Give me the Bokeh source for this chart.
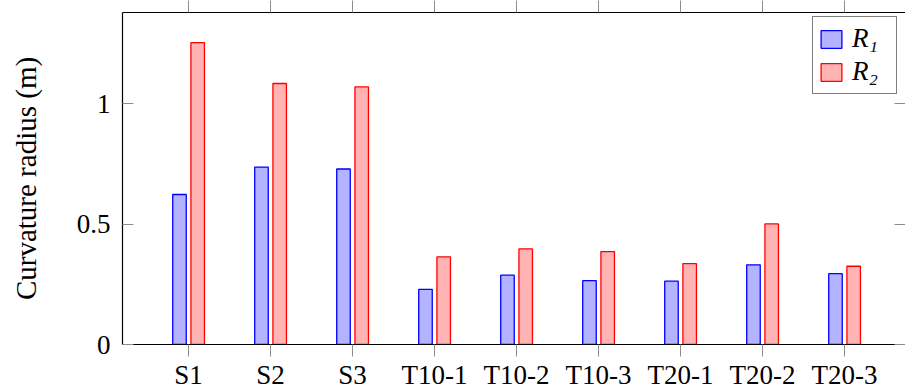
from bokeh.plotting import figure
from bokeh.models import (Range1d, FixedTicker, LinearAxis, Legend, LegendItem,
                          ColumnDataSource)
from bokeh.transform import dodge
from bokeh.embed import file_html
from bokeh.resources import INLINE

categories = ["S1", "S2", "S3", "T10-1", "T10-2", "T10-3", "T20-1", "T20-2", "T20-3"]
r1_values = [0.623, 0.737, 0.729, 0.229, 0.288, 0.265, 0.263, 0.331, 0.294]
r2_values = [1.254, 1.084, 1.070, 0.364, 0.397, 0.386, 0.336, 0.501, 0.325]
y_ticks = [0, 0.5, 1]
y_tick_labels = ["0", "0.5", "1"]

positions = list(range(1, len(categories) + 1))
src = ColumnDataSource(dict(x=positions, r1=r1_values, r2=r2_values))

FONT = "Liberation Serif"
TICK_COLOR = "#8c8c8c"

p = figure(width=905, height=392, output_backend="svg", toolbar_location=None,
           x_range=Range1d(0.195, 9.744), y_range=Range1d(0, 1.379),
           x_axis_location=None, y_axis_location=None,
           min_border_left=122, min_border_right=0, min_border_top=12,
           min_border_bottom=46)
p.outline_line_color = None
p.grid.visible = False
p.background_fill_color = "white"
p.border_fill_color = "white"

rb = p.vbar(x=dodge("x", -0.11), top="r1", width=0.165, source=src,
            fill_color="#b3b3ff", line_color="#0000ff", line_width=1.3)
rr = p.vbar(x=dodge("x", 0.112), top="r2", width=0.165, source=src,
            fill_color="#ffb3b3", line_color="#ff0000", line_width=1.3)

xt = FixedTicker(ticks=positions)
yt = FixedTicker(ticks=y_ticks)

bottom = LinearAxis(ticker=xt)
bottom.major_label_overrides = {pos: c for pos, c in zip(positions, categories)}
bottom.major_tick_out = 12
bottom.major_tick_in = 0
bottom.minor_tick_out = 0
bottom.minor_tick_in = 0
bottom.major_tick_line_color = TICK_COLOR
bottom.axis_line_color = "black"
bottom.axis_line_width = 1.2
bottom.major_label_standoff = 3
bottom.major_label_text_font = FONT
bottom.major_label_text_font_size = "27px"
bottom.major_label_text_color = "black"
p.add_layout(bottom, "below")

top = LinearAxis(ticker=xt)
top.major_label_text_font_size = "0px"
top.major_label_text_alpha = 0
top.major_tick_out = 12
top.major_tick_in = 0
top.minor_tick_out = 0
top.minor_tick_in = 0
top.major_tick_line_color = TICK_COLOR
top.axis_line_color = "black"
top.axis_line_width = 1.2
top.major_label_standoff = 0
p.add_layout(top, "above")

left = LinearAxis(ticker=yt)
left.major_label_overrides = {t: s for t, s in zip(y_ticks, y_tick_labels)}
left.major_tick_in = 11
left.major_tick_out = 0
left.minor_tick_out = 0
left.minor_tick_in = 0
left.major_tick_line_color = TICK_COLOR
left.axis_line_color = "black"
left.axis_line_width = 1.2
left.major_label_standoff = 12
left.major_label_text_font = FONT
left.major_label_text_font_size = "27px"
left.major_label_text_color = "black"
left.axis_label = "Curvature radius (m)"
left.axis_label_text_font = FONT
left.axis_label_text_font_size = "29px"
left.axis_label_text_font_style = "normal"
left.axis_label_text_color = "black"
left.axis_label_standoff = 32
p.add_layout(left, "left")

right = LinearAxis(ticker=yt)
right.major_label_text_font_size = "0px"
right.major_label_text_alpha = 0
right.major_tick_in = 11
right.major_tick_out = 0
right.minor_tick_out = 0
right.minor_tick_in = 0
right.major_tick_line_color = TICK_COLOR
right.axis_line_color = None
right.major_label_standoff = 0
p.add_layout(right, "right")

legend = Legend(items=[LegendItem(label="R\u2081", renderers=[rb]),
                       LegendItem(label="R\u2082", renderers=[rr])],
                location=(690, 250))
legend.margin = 0
legend.padding = 5
legend.spacing = 0
legend.glyph_width = 26
legend.glyph_height = 22
legend.label_standoff = 8
legend.label_height = 33
legend.label_width = 39
legend.label_text_font = FONT
legend.label_text_font_size = "27px"
legend.label_text_font_style = "italic"
legend.label_text_color = "black"
legend.border_line_color = "black"
legend.border_line_width = 1.2
legend.background_fill_color = "white"
legend.background_fill_alpha = 1
p.add_layout(legend, "center")

open("out.html", "w").write(file_html(p, INLINE))
